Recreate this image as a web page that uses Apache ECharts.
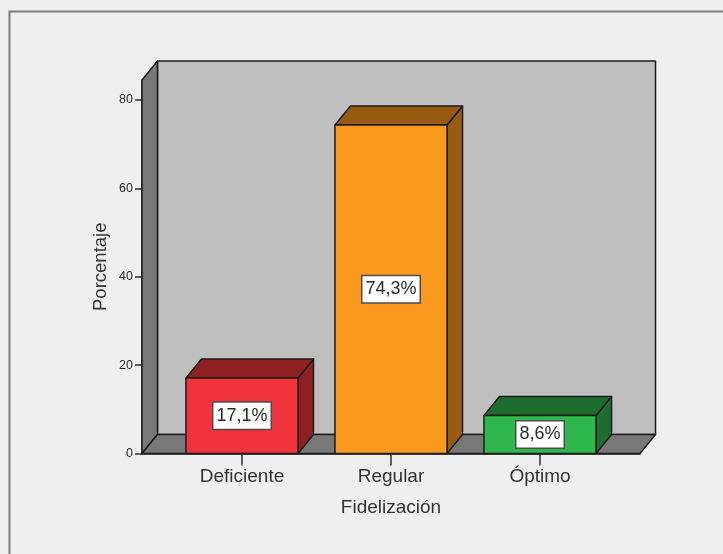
<!DOCTYPE html>
<html>
<head>
<meta charset="utf-8">
<style>html,body{margin:0;padding:0;background:#efefef}#c{width:723px;height:554px}</style>
<script src="https://cdn.jsdelivr.net/npm/echarts@6/dist/echarts.min.js"></script>
</head>
<body>
<div id="c"></div>
<script>
// Fidelización: percentage per category
const categories = ['Deficiente', 'Regular', 'Óptimo'];
const percentages = [17.1, 74.3, 8.6];
const faceColors = ['#f1333b', '#fb9a1e', '#2eb84b'];
const sideColors = ['#8e1f22', '#985b12', '#1d6e2e'];
const yTicks = [0, 20, 40, 60, 80];

// Oblique projection offset of the box depth, in pixels
const DEPTH_X = 15.5;
const DEPTH_Y = 19;
const EDGE = '#1c1c1c';
const X_MIN = -0.671, X_MAX = 2.671, Y_MAX = 84.5;
const BAR_SPAN = 0.752;
const FONT = '"Liberation Sans", Arial, sans-serif';

function poly(points, fill) {
  return {
    type: 'polygon',
    shape: { points: points },
    style: { fill: fill, stroke: EDGE, lineWidth: 1.5, lineJoin: 'round' }
  };
}

// Back wall, side wall and floor of the plot box
function renderWalls(params, api) {
  const bl = api.coord([X_MIN, 0]);
  const br = api.coord([X_MAX, 0]);
  const tl = api.coord([X_MIN, Y_MAX]);
  const back = p => [p[0] + DEPTH_X, p[1] - DEPTH_Y];
  return {
    type: 'group',
    children: [
      poly([back(tl), back([br[0], tl[1]]), back(br), back(bl)], '#bfbfbf'),
      poly([tl, back(tl), back(bl), bl], '#787878'),
      poly([bl, back(bl), back(br), br], '#787878')
    ]
  };
}

// One extruded bar with its value box at the middle of the front face
function renderBar(params, api) {
  const i = params.dataIndex;
  const cx = api.value(0), v = api.value(1);
  const l = api.coord([cx - BAR_SPAN / 2, v]);
  const r = api.coord([cx + BAR_SPAN / 2, 0]);
  const x0 = l[0], x1 = r[0], top = l[1], base = r[1];
  const mid = (x0 + x1) / 2;
  const text = String(v).replace('.', ',') + '%';
  return {
    type: 'group',
    children: [
      poly([[x1, top], [x1 + DEPTH_X, top - DEPTH_Y], [x1 + DEPTH_X, base - DEPTH_Y], [x1, base]], sideColors[i]),
      poly([[x0, top], [x0 + DEPTH_X, top - DEPTH_Y], [x1 + DEPTH_X, top - DEPTH_Y], [x1, top]], sideColors[i]),
      poly([[x0, top], [x1, top], [x1, base], [x0, base]], faceColors[i]),
      {
        type: 'text',
        x: mid,
        y: (top + base) / 2,
        style: {
          text: text,
          align: 'center',
          verticalAlign: 'middle',
          font: '18px ' + FONT,
          fill: '#2a2a2a',
          backgroundColor: '#fff',
          borderColor: '#4d4d4d',
          borderWidth: 1.5,
          padding: [4, 3, 4, 3]
        }
      }
    ]
  };
}

const chart = echarts.init(document.getElementById('c'), null, { renderer: 'canvas' });
chart.setOption({
  animation: false,
  backgroundColor: '#efefef',
  graphic: [{
    type: 'rect',
    silent: true,
    z: -1,
    shape: { x: 9.5, y: 11.5, width: 730, height: 560 },
    style: { fill: 'none', stroke: '#7d7d7d', lineWidth: 2 }
  }],
  grid: { left: 142, right: 83, top: 80, bottom: 100.5 },
  xAxis: {
    type: 'value',
    min: X_MIN,
    max: X_MAX,
    name: 'Fidelización',
    nameLocation: 'middle',
    nameGap: 45,
    nameTextStyle: { fontFamily: FONT, fontSize: 19, color: '#333' },
    splitLine: { show: false },
    axisLine: { show: true, onZero: false, lineStyle: { color: EDGE, width: 1.5 } },
    axisTick: { show: true, length: 12, lineStyle: { color: '#333', width: 1.5 }, customValues: [0, 1, 2] },
    axisLabel: {
      customValues: [0, 1, 2],
      margin: 14,
      fontFamily: FONT,
      fontSize: 19,
      color: '#333',
      formatter: v => categories[v] || ''
    }
  },
  yAxis: {
    type: 'value',
    min: 0,
    max: Y_MAX,
    name: 'Porcentaje',
    nameLocation: 'middle',
    nameGap: 32,
    nameMoveOverlap: false,
    nameTextStyle: { fontFamily: FONT, fontSize: 18.5, color: '#333' },
    splitLine: { show: false },
    axisLine: { show: true, onZero: false, lineStyle: { color: EDGE, width: 1.5 } },
    axisTick: { show: true, length: 7, lineStyle: { color: '#333', width: 1.5 }, customValues: yTicks },
    axisLabel: { customValues: yTicks, margin: 9, padding: [3, 0, 0, 0], fontFamily: FONT, fontSize: 12.5, color: '#2a2a2a' }
  },
  series: [
    {
      type: 'custom',
      clip: false,
      silent: true,
      z: 1,
      renderItem: renderWalls,
      data: [[0, 0]]
    },
    {
      type: 'custom',
      clip: false,
      silent: true,
      z: 2,
      renderItem: renderBar,
      encode: { x: 0, y: 1 },
      data: percentages.map((p, i) => [i, p])
    }
  ]
});
</script>
</body>
</html>
